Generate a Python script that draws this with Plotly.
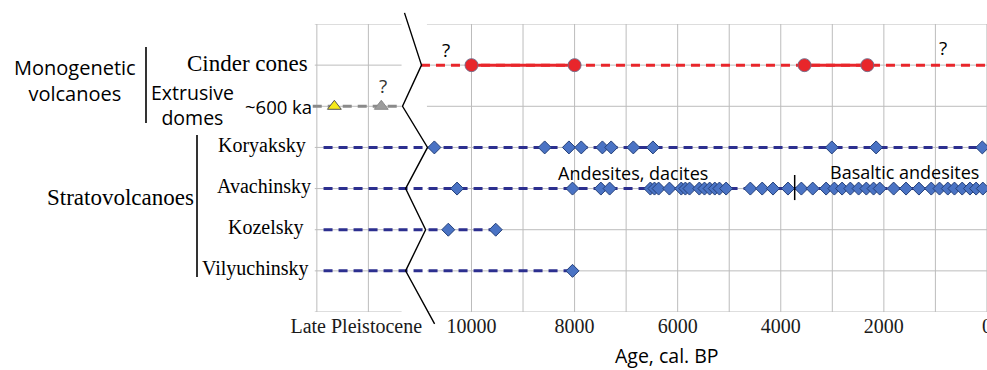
import plotly.graph_objects as go

# ---------------- data (ages in cal. years BP; Pleistocene drawn on a compressed extension) ----
row_names = ["Vilyuchinsky", "Kozelsky", "Avachinsky", "Koryaksky", "Extrusive domes", "Cinder cones"]
row_val = {n: i + 1 for i, n in enumerate(row_names)}

cinder_ages = [10000, 8000, 3540, 2320]
cinder_solid_pairs = [(10000, 8000), (3540, 2320)]
cinder_span = [10980, 0]

domes_known = [12660]      # ~600 ka (yellow)
domes_uncertain = [11750]  # ? (grey)
domes_span = [13080, 11340]

strato_start = 12870
koryaksky = [10720, 8580, 8110, 7870, 7460, 7290, 6860, 6480, 3010, 2150, 90]
avachinsky = [10280, 8040, 7490, 7320, 6530, 6450, 6370, 6160, 5930, 5850, 5770, 5580, 5480,
              5380, 5280, 5190, 5060, 4590, 4360, 4150, 3860, 3600, 3380, 3120, 2960, 2810,
              2650, 2490, 2340, 2200, 2080, 1810, 1570, 1320, 1080, 920, 760, 630, 480, 330,
              210, 80]
kozelsky = [10450, 9530]
vilyuchinsky = [8040]
avach_divider = 3730

tick_vals = [12235, 10000, 8000, 6000, 4000, 2000, 0]
tick_text = ["Late Pleistocene", "10000", "8000", "6000", "4000", "2000", "0"]
grid_ages = [13000, 12000, 10000, 9000, 8000, 7000, 6000, 5000, 4000, 3000, 2000, 1000, 0]
grid_rows = [0, 1, 2, 3, 4, 5, 6, 7]
grid_left_span = [13040, 11356]
grid_right_span = [10864, 0]
break_pts = [(11300, 7.27), (10970, 6), (11338, 5), (10853, 4), (11278, 3), (10890, 2),
             (11278, 1), (10716, -0.29)]

# ---------------- layout geometry ----------------
W, H = 987, 370
ML, MR, MT, MB = 300, 0, 24, 58
PXY = 0.05155
XMAX = (W - ML - MR) / PXY
PLOT_H = H - MT - MB


def xp(px):
    return (px - ML) / (W - ML - MR)


def yp(py):
    return (H - MB - py) / PLOT_H


def ax_to_paper(age, v):
    return (XMAX - age) / XMAX, v / 7.0


SERIF = "Liberation Serif"
SANS = "Open Sans"
NAVY = "#2c2f8f"
DIAMOND_FILL = "#4a73c4"
DIAMOND_EDGE = "#24407a"
RED = "#e8262b"
GRID = "#bcbcbc"
DASH = "9px,6px"

fig = go.Figure()

# stratovolcano rows
for name, ages in [("Koryaksky", koryaksky), ("Avachinsky", avachinsky),
                   ("Kozelsky", kozelsky), ("Vilyuchinsky", vilyuchinsky)]:
    v = row_val[name]
    xs = [strato_start] + ages
    fig.add_trace(go.Scatter(x=xs, y=[v] * len(xs), mode="lines",
                             line=dict(color=NAVY, width=3, dash=DASH), hoverinfo="skip"))
    fig.add_trace(go.Scatter(x=ages, y=[v] * len(ages), mode="markers", cliponaxis=False,
                             marker=dict(symbol="diamond", size=10, color=DIAMOND_FILL,
                                         line=dict(color=DIAMOND_EDGE, width=1))))

# cinder cones
vc = row_val["Cinder cones"]
fig.add_trace(go.Scatter(x=cinder_span, y=[vc, vc], mode="lines",
                         line=dict(color=RED, width=3, dash=DASH)))
for a, b in cinder_solid_pairs:
    fig.add_trace(go.Scatter(x=[a, b], y=[vc, vc], mode="lines", line=dict(color=RED, width=3)))
fig.add_trace(go.Scatter(x=cinder_ages, y=[vc] * len(cinder_ages), mode="markers",
                         marker=dict(symbol="circle", size=13, color=RED,
                                     line=dict(color="rgba(110,110,140,0.9)", width=1))))

# extrusive domes
vd = row_val["Extrusive domes"]
fig.add_trace(go.Scatter(x=domes_span, y=[vd, vd], mode="lines",
                         line=dict(color="#8a8a8a", width=3, dash=DASH)))
fig.add_trace(go.Scatter(x=domes_known, y=[vd], mode="markers",
                         marker=dict(symbol="triangle-up", size=12, color="#f7ea1a",
                                     line=dict(color="#555555", width=1))))
fig.add_trace(go.Scatter(x=domes_uncertain, y=[vd], mode="markers",
                         marker=dict(symbol="triangle-up", size=12, color="#9c9c9c",
                                     line=dict(color="#8a8a8a", width=1))))

shapes = []
# grid
for a in grid_ages:
    shapes.append(dict(type="line", xref="x", yref="y", x0=a, x1=a, y0=0, y1=7,
                       line=dict(color=GRID, width=1), layer="below"))
for r in grid_rows:
    for span in (grid_left_span, grid_right_span):
        shapes.append(dict(type="line", xref="x", yref="y", x0=span[0], x1=span[1], y0=r, y1=r,
                           line=dict(color=GRID, width=1), layer="below"))
# axis break zigzag
pts = [ax_to_paper(a, v) for a, v in break_pts]
path = "M " + " L ".join(f"{x:.5f},{y:.5f}" for x, y in pts)
shapes.append(dict(type="path", xref="paper", yref="paper", path=path,
                   line=dict(color="black", width=1.4), layer="above"))
# Avachinsky composition divider
shapes.append(dict(type="line", xref="x", yref="y", x0=avach_divider, x1=avach_divider,
                   y0=2.72, y1=3.33, line=dict(color="black", width=1.5)))
# group brackets
shapes.append(dict(type="line", xref="paper", yref="paper", x0=xp(146), x1=xp(146),
                   y0=yp(47), y1=yp(123), line=dict(color="black", width=1.6)))
shapes.append(dict(type="line", xref="paper", yref="paper", x0=xp(197), x1=xp(197),
                   y0=yp(135), y1=yp(277), line=dict(color="black", width=1.6)))

ann = []


def add_text(text, x, y, xref, yref, size, family, xanchor="center", color="black", yshift=0,
             align="center"):
    ann.append(dict(text=text, x=x, y=y, xref=xref, yref=yref, showarrow=False,
                    xanchor=xanchor, yanchor="middle", yshift=yshift, align=align,
                    font=dict(size=size, family=family, color=color)))


# row labels
add_text("Cinder cones", xp(310), vc, "paper", "y", 23, SERIF, "right", yshift=2)
add_text("~600 ka", xp(314), vd, "paper", "y", 18.5, SANS, "right")
add_text("Koryaksky", xp(308), row_val["Koryaksky"], "paper", "y", 20, SERIF, "right", yshift=2)
add_text("Avachinsky", xp(313), row_val["Avachinsky"], "paper", "y", 20, SERIF, "right", yshift=2)
add_text("Kozelsky", xp(306), row_val["Kozelsky"], "paper", "y", 20, SERIF, "right", yshift=2)
add_text("Vilyuchinsky", xp(311), row_val["Vilyuchinsky"], "paper", "y", 20, SERIF, "right", yshift=2)
# group labels
add_text("Monogenetic<br>volcanoes", xp(75), yp(80.5), "paper", "paper", 20, SANS)
add_text("Extrusive<br>domes", xp(149), yp(105), "paper", "paper", 19.5, SANS, "left", align="center")
add_text("Stratovolcanoes", xp(120), yp(197), "paper", "paper", 23, SERIF)
# in-plot labels
add_text("?", 10500, 6.36, "x", "y", 19, SANS)
add_text("?", 850, 6.42, "x", "y", 19, SANS)
add_text("?", 11717, 5.49, "x", "y", 19, SANS, color="#333333")
add_text("Andesites, dacites", 6867, 3.38, "x", "y", 18, SANS)
add_text("Basaltic andesites", 1591, 3.40, "x", "y", 18, SANS)
add_text("Age, cal. BP", 6208, yp(355), "x", "paper", 19.5, SANS)

fig.update_layout(
    width=W, height=H, margin=dict(l=ML, r=MR, t=MT, b=MB, autoexpand=False),
    paper_bgcolor="white", plot_bgcolor="white", showlegend=False,
    shapes=shapes, annotations=ann,
    xaxis=dict(range=[XMAX, -1], showgrid=False, zeroline=False, showline=False,
               tickvals=tick_vals, ticktext=tick_text, ticks="", automargin=False,
               ticklabeloverflow="allow",
               tickfont=dict(family=SERIF, size=20, color="#1a1a1a")),
    yaxis=dict(range=[0, 7], showgrid=False, zeroline=False, showline=False,
               showticklabels=False, ticks=""),
)

fig.write_html("out.html")
